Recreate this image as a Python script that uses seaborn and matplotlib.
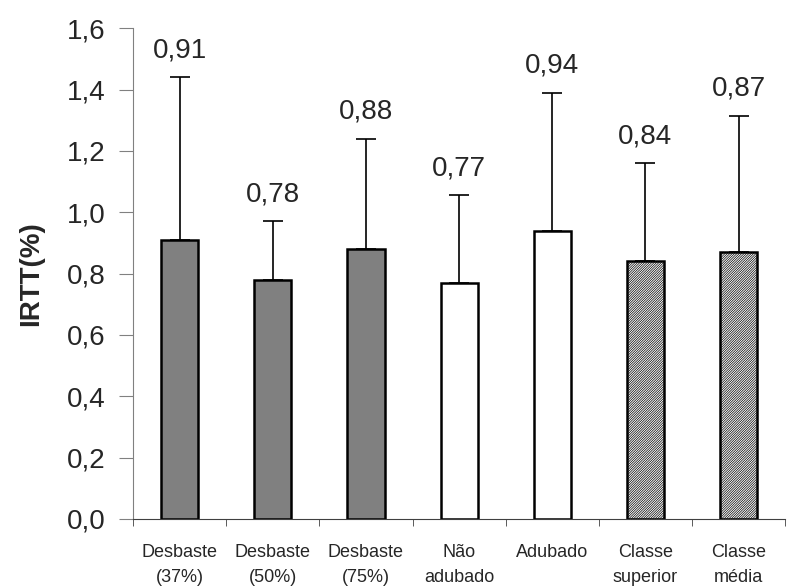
import matplotlib
matplotlib.use('Agg')
import matplotlib.pyplot as plt
import seaborn as sns
import pandas as pd
import numpy as np

labels = ['Desbaste\n(37%)', 'Desbaste\n(50%)', 'Desbaste\n(75%)', 'Não\nadubado',
          'Adubado', 'Classe\nsuperior', 'Classe\nmédia']
values = [0.91, 0.78, 0.88, 0.77, 0.94, 0.84, 0.87]
errors = [0.53, 0.19, 0.36, 0.285, 0.45, 0.32, 0.445]
fills = ['#808080', '#808080', '#808080', 'white', 'white', 'white', 'white']
hatches = ['', '', '', '', '', '/' * 14, '/' * 14]

sns.set_style('white')
plt.rcParams['font.family'] = ['Liberation Sans', 'DejaVu Sans']
plt.rcParams['hatch.linewidth'] = 0.5

df = pd.DataFrame({'grupo': labels, 'irtt': values})

fig = plt.figure(figsize=(8.02, 5.87), dpi=100)
ax = fig.add_axes([0.166, 0.116, 0.813, 0.836])

sns.barplot(data=df, x='grupo', y='irtt', hue='grupo', palette=fills, legend=False,
            width=0.4, edgecolor='black', linewidth=1.8, ax=ax)
for p, h in zip(ax.patches, hatches):
    p.set_hatch(h)

x = np.arange(len(values))
ax.errorbar(x, values, yerr=[np.zeros(len(errors)), errors], fmt='none',
            ecolor='black', elinewidth=1.2, capsize=7, capthick=1.2)

for xi, v, e in zip(x, values, errors):
    ax.text(xi, v + e + 0.045, f'{v:.2f}'.replace('.', ','), ha='center', va='bottom', fontsize=20)

ax.set_ylim(0, 1.6)
ax.set_xlim(-0.5, 6.22)
yt = np.arange(0, 1.61, 0.2)
ax.set_yticks(yt)
ax.set_yticklabels([f'{t:.1f}'.replace('.', ',') for t in yt], fontsize=20)
ax.set_xticks(x)
ax.set_xticklabels(labels, fontsize=13, linespacing=1.6)
ax.tick_params(axis='x', length=0, pad=18)
ax.set_xticks(np.arange(-0.5, 6.6, 1), minor=True)
ax.tick_params(axis='x', which='minor', direction='out', length=5, color='#404040', bottom=True)
ax.tick_params(axis='y', direction='out', length=10, color='#808080', left=True, pad=10)
ax.set_ylabel('IRTT(%)', fontsize=20, fontweight='bold', labelpad=16)
ax.set_xlabel('')

for s in ['top', 'right']:
    ax.spines[s].set_visible(False)
ax.spines['left'].set_color('#808080')
ax.spines['bottom'].set_color('#404040')

fig.savefig('out.png', dpi=100)
